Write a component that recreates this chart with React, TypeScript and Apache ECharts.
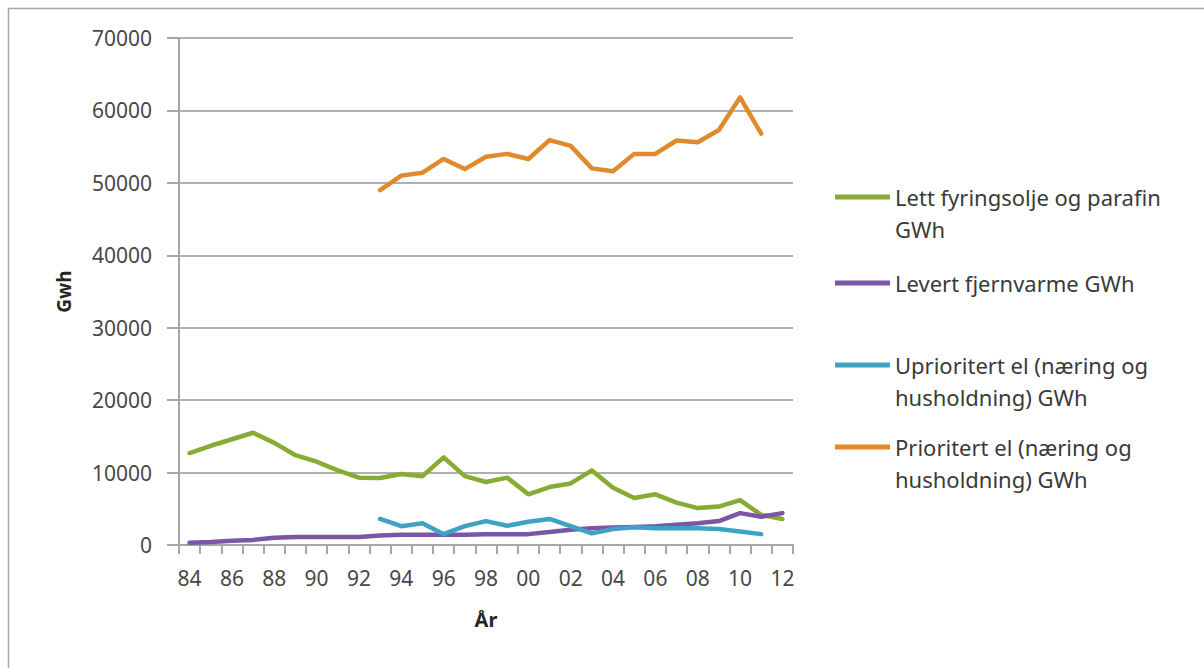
import React, { useEffect, useRef } from "react";
import * as echarts from "echarts";

const years = ["84","85","86","87","88","89","90","91","92","93","94","95","96","97","98","99","00","01","02","03","04","05","06","07","08","09","10","11","12"];

const lettFyringsolje = [12700,13700,14600,15500,14100,12400,11500,10300,9300,9250,9800,9500,12100,9500,8700,9300,7000,8000,8500,10300,7900,6500,7000,5850,5100,5300,6200,4150,3600];
const levertFjernvarme = [300,400,600,700,1000,1100,1100,1100,1100,1300,1400,1400,1400,1400,1500,1500,1500,1800,2100,2300,2400,2500,2600,2800,3000,3300,4400,3900,4400];
const uprioritertEl = [null,null,null,null,null,null,null,null,null,3600,2600,3000,1500,2600,3300,2650,3200,3600,2600,1600,2200,2450,2300,2300,2300,2200,1850,1500,null];
const prioritertEl = [null,null,null,null,null,null,null,null,null,49000,51000,51400,53300,51900,53600,54000,53300,55900,55100,52000,51600,54000,54000,55850,55600,57300,61800,56800,null];

const yTicks = [0, 10000, 20000, 30000, 40000, 50000, 60000, 70000];

const seriesNames = [
  "Lett fyringsolje og parafin GWh",
  "Levert fjernvarme GWh",
  "Uprioritert el (næring og husholdning) GWh",
  "Prioritert el (næring og husholdning) GWh",
];
const legendLabels: Record<string, string> = {
  "Lett fyringsolje og parafin GWh": "\nLett fyringsolje og parafin\nGWh",
  "Levert fjernvarme GWh": "Levert fjernvarme GWh",
  "Uprioritert el (næring og husholdning) GWh": "\nUprioritert el (næring og\nhusholdning) GWh",
  "Prioritert el (næring og husholdning) GWh": "\nPrioritert el (næring og\nhusholdning) GWh",
};
const colors = ["#86ac34", "#7d55a6", "#3ea3c2", "#e08a2c"];
const legendTops = [149, 267, 317, 399];

export default function App() {
  const ref = useRef<HTMLDivElement>(null);
  useEffect(() => {
    document.body.style.margin = "0";
    const chart = echarts.init(ref.current!, null, { renderer: "svg" });
    const font = "'Noto Sans', sans-serif";
    const dataSets = [lettFyringsolje, levertFjernvarme, uprioritertEl, prioritertEl];
    chart.setOption({
      animation: false,
      backgroundColor: "#ffffff",
      textStyle: { fontFamily: font },
      graphic: [
        {
          type: "rect",
          shape: { x: 8.5, y: 8.5, width: 1300, height: 800 },
          style: { fill: "none", stroke: "#a6a6a6", lineWidth: 1.5 },
          silent: true,
        },
      ],
      legend: seriesNames.map((n, i) => ({
        data: [n],
        left: 835,
        top: legendTops[i],
        orient: "vertical",
        icon: "rect",
        itemWidth: 55,
        itemHeight: 5,
        selectedMode: false,
        formatter: (name: string) => legendLabels[name] || name,
        textStyle: { fontSize: 22, lineHeight: 32, color: "#3a3a3a", fontFamily: font },
        padding: 0,
      })),
      grid: { left: 179, right: 411, top: 38, bottom: 123, containLabel: false },
      xAxis: {
        type: "category",
        data: years,
        boundaryGap: true,
        name: "År",
        nameLocation: "middle",
        nameGap: 64,
        nameTextStyle: { fontSize: 20, fontWeight: "bold", color: "#262626", fontFamily: font },
        axisLine: { lineStyle: { color: "#a6a6a6", width: 2 } },
        axisTick: { show: true, interval: 0, length: 9, lineStyle: { color: "#a6a6a6", width: 2 } },
        axisLabel: { interval: 1, fontSize: 21, color: "#484848", margin: 22, fontFamily: font },
        splitLine: { show: false },
      },
      yAxis: {
        type: "value",
        min: 0,
        max: 70000,
        interval: 10000,
        name: "Gwh",
        nameLocation: "middle",
        nameRotate: 90,
        nameGap: 106,
        nameTextStyle: { fontSize: 19, fontWeight: "bold", color: "#262626", fontFamily: font },
        axisLine: { show: true, lineStyle: { color: "#a6a6a6", width: 2 } },
        axisTick: { show: true, length: 12, lineStyle: { color: "#a6a6a6", width: 2 } },
        axisLabel: {
          fontSize: 21,
          color: "#484848",
          margin: 27,
          fontFamily: font,
          formatter: (v: number) => (yTicks.includes(v) ? String(v) : ""),
        },
        splitLine: { show: true, lineStyle: { color: "#b0b0b0", width: 2 } },
      },
      series: seriesNames.map((n, i) => ({
        name: n,
        type: "line",
        data: dataSets[i],
        symbol: "none",
        connectNulls: false,
        lineStyle: { width: 4.5, color: colors[i], join: "round", cap: "round" },
        itemStyle: { color: colors[i] },
        z: 3,
      })),
    });
    return () => chart.dispose();
  }, []);
  return <div ref={ref} style={{ width: 1204, height: 668 }} />;
}
